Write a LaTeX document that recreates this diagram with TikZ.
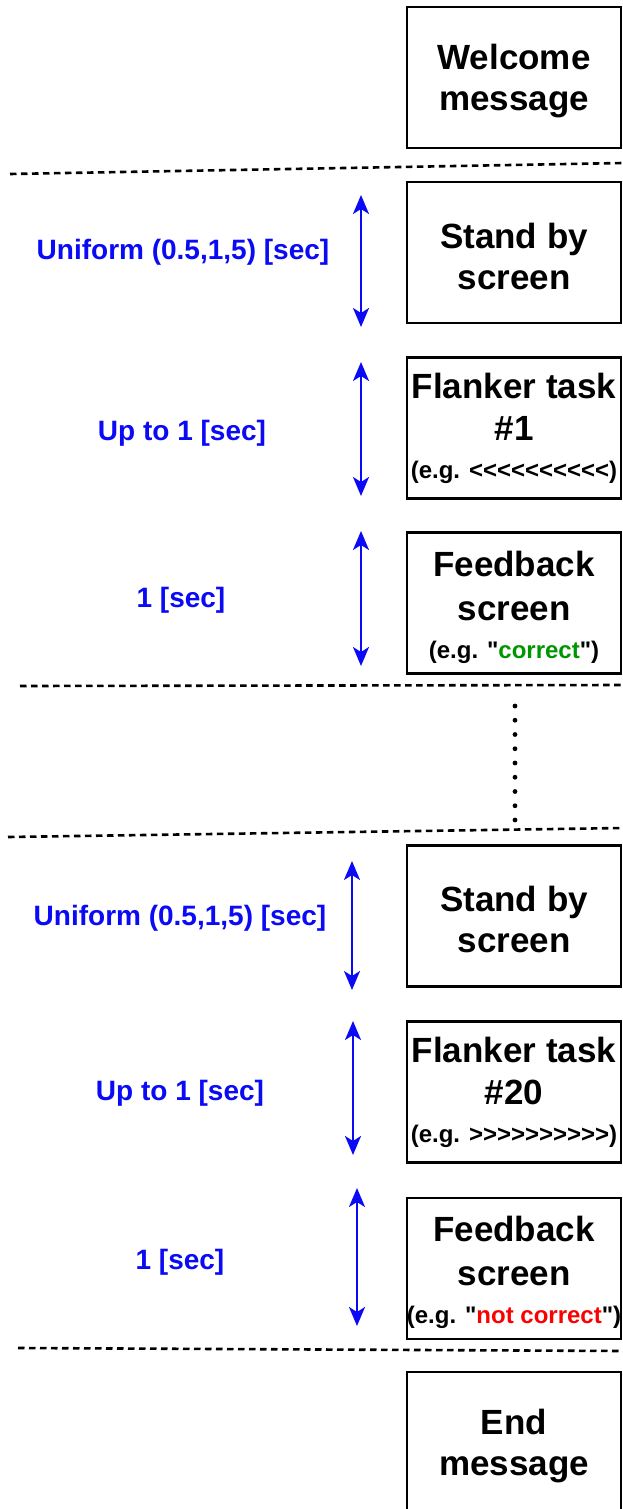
\documentclass[tikz,border=0pt]{standalone}
\usepackage{fontspec}
\setmainfont{Liberation Sans}[Ligatures=TeXOff]
\usetikzlibrary{arrows.meta}

\definecolor{timeblue}{RGB}{10,10,245}
\definecolor{okgreen}{RGB}{0,150,0}
\definecolor{badred}{RGB}{250,0,0}

\newcommand{\boxfont}{\fontsize{35}{41}\selectfont\bfseries}
\newcommand{\examplefont}{\fontsize{24}{28}\selectfont\bfseries}
\newcommand{\timefont}{\fontsize{28}{32}\selectfont\bfseries}
% strut that lowers a box's text block a little
\newcommand{\topstrut}[1]{\rule{0pt}{#1}}

\begin{document}
\begin{tikzpicture}[x=1pt,y=1pt,
  screenbox/.style={draw=black, line width=2.2pt, minimum width=214pt,
    minimum height=141pt, inner sep=0pt, align=center, font=\boxfont},
  timelabel/.style={text=timeblue, font=\timefont, inner sep=0pt},
  timearrow/.style={draw=timeblue, line width=2.2pt,
    {Stealth[length=19pt,width=16pt,inset=5pt]}-{Stealth[length=19pt,width=16pt,inset=5pt]}},
  separator/.style={draw=black, line width=2.6pt, dash pattern=on 6.5pt off 4.5pt},
  skipdots/.style={draw=black, line width=4.8pt, line cap=round, dash pattern=on 0pt off 14.25pt}
]
\useasboundingbox (0,0) rectangle (623,-1509);
\clip (0,0) rectangle (623,-1509);

% screens of the session
\node[screenbox] (welcome) at (514,-77.5) {\topstrut{33pt}Welcome\\message};
\node[screenbox] (standA) at (514,-252.5) {\topstrut{33pt}Stand by\\screen};
\node[screenbox] (flankA) at (514,-428) {Flanker task\\[1pt]\#1\\[-3pt]{\examplefont (e.g. <<<<<<<<<<)}};
\node[screenbox] (feedA) at (514,-603) {\topstrut{34pt}Feedback\\[3pt]screen\\[-3pt]{\examplefont (e.g. "\textcolor{okgreen}{correct}")}};
\node[screenbox] (standB) at (514,-916) {\topstrut{33pt}Stand by\\screen};
\node[screenbox] (flankB) at (514,-1092) {Flanker task\\[1pt]\#20\\[-3pt]{\examplefont (e.g. >>>>>>>>>>)}};
\node[screenbox] (feedB) at (514,-1268.5) {\topstrut{34pt}Feedback\\[3pt]screen\\[-3pt]{\examplefont (e.g. "\textcolor{badred}{not correct}")}};
\node[screenbox] (endmsg) at (514,-1442.5) {\topstrut{33pt}End\\message};

% durations
\node[timelabel] (tA1) at (183,-252) {Uniform (0.5,1,5) [sec]};
\node[timelabel] (tA2) at (182,-433) {Up to 1 [sec]};
\node[timelabel] (tA3) at (181,-600) {1 [sec]};
\node[timelabel] (tB1) at (180,-918) {Uniform (0.5,1,5) [sec]};
\node[timelabel] (tB2) at (180,-1093) {Up to 1 [sec]};
\node[timelabel] (tB3) at (180,-1262) {1 [sec]};

% duration arrows
\coordinate (aA1t) at (361,-195); \coordinate (aA1b) at (361,-327);
\coordinate (aA2t) at (361,-362); \coordinate (aA2b) at (361,-496);
\coordinate (aA3t) at (361,-531); \coordinate (aA3b) at (361,-666);
\coordinate (aB1t) at (352,-861); \coordinate (aB1b) at (352,-990);
\coordinate (aB2t) at (353,-1021); \coordinate (aB2b) at (353,-1155);
\coordinate (aB3t) at (357,-1188); \coordinate (aB3b) at (357,-1326);
\draw[timearrow] (aA1t) -- (aA1b);
\draw[timearrow] (aA2t) -- (aA2b);
\draw[timearrow] (aA3t) -- (aA3b);
\draw[timearrow] (aB1t) -- (aB1b);
\draw[timearrow] (aB2t) -- (aB2b);
\draw[timearrow] (aB3t) -- (aB3b);

% block separators
\coordinate (s1l) at (10,-174); \coordinate (s1r) at (623,-163);
\coordinate (s2l) at (20,-686); \coordinate (s2r) at (623,-685);
\coordinate (s3l) at (8,-837);  \coordinate (s3r) at (623,-828);
\coordinate (s4l) at (18,-1348); \coordinate (s4r) at (623,-1351);
\draw[separator] (s1l) -- (s1r);
\draw[separator] (s2l) -- (s2r);
\draw[separator] (s3l) -- (s3r);
\draw[separator] (s4l) -- (s4r);

% omitted trials
\coordinate (dotsT) at (515,-706); \coordinate (dotsB) at (515,-821);
\draw[skipdots] (dotsT) -- (dotsB);
\end{tikzpicture}
\end{document}
